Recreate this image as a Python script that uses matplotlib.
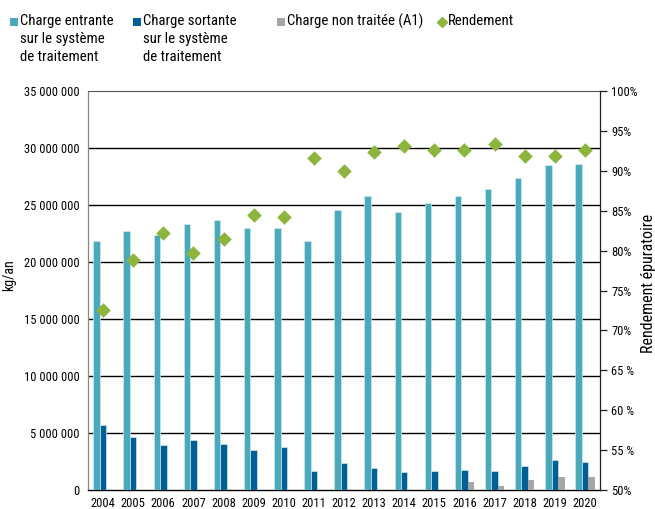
import matplotlib
matplotlib.use("Agg")
import matplotlib.pyplot as plt
from matplotlib import font_manager
from matplotlib.patches import Rectangle
from matplotlib.lines import Line2D
import numpy as np

available = {f.name for f in font_manager.fontManager.ttflist}
narrow = [n for n in ("Liberation Sans Narrow", "Roboto Condensed", "Open Sans Condensed",
                      "DejaVu Sans Condensed") if n in available]
family = narrow[0] if narrow else "Liberation Sans"
plt.rcParams["font.family"] = [family, "DejaVu Sans"]
scale = 1.15 if narrow else 1.0

years = ["2004", "2005", "2006", "2007", "2008", "2009", "2010", "2011", "2012",
         "2013", "2014", "2015", "2016", "2017", "2018", "2019", "2020"]
charge_entrante = [21.8, 22.7, 22.4, 23.3, 23.7, 23.0, 23.0, 21.8, 24.6,
                   25.8, 24.4, 25.2, 25.8, 26.4, 27.4, 28.5, 28.6]  # millions kg/an
charge_sortante = [5.7, 4.65, 3.95, 4.35, 4.03, 3.5, 3.75, 1.67, 2.4,
                   1.9, 1.58, 1.67, 1.78, 1.67, 2.1, 2.63, 2.46]
charge_non_traitee = [0, 0, 0, 0, 0, 0, 0, 0, 0,
                      0, 0, 0, 0.67, 0.35, 0.88, 1.14, 1.14]
rendement = [72.6, 78.8, 82.2, 79.7, 81.5, 84.5, 84.2, 91.6, 90.0,
             92.3, 93.1, 92.6, 92.6, 93.3, 91.9, 91.9, 92.6]

left_ticks = [0, 5, 10, 15, 20, 25, 30, 35]
left_labels = ["0", "5 000 000", "10 000 000", "15 000 000", "20 000 000",
               "25 000 000", "30 000 000", "35 000 000"]
right_ticks = [50, 55, 60, 65, 70, 75, 80, 85, 90, 95, 100]
right_labels = ["50%", "55 %", "60 %", "65 %", "70%", "75%", "80%", "85%",
                "90%", "95%", "100%"]

c_in = "#4aa9bb"
c_out = "#005f94"
c_na = "#a6a6a6"
c_rend = "#8db43c"

fs_tick = 7.8 * scale
fs_leg = 9.2 * scale
fs_lab = 8.8 * scale
fs_lab_r = 10.0 * scale

W, H = 655, 509
fig = plt.figure(figsize=(W / 100, H / 100), dpi=100)
ax = fig.add_axes([88 / W, 1 - 490 / H, 512 / W, 399 / H])

x = np.arange(len(years))
w = 0.215
ax.bar(x - w, charge_entrante, w, color=c_in, edgecolor="#cfe9ee", linewidth=0.5, zorder=3)
ax.bar(x, charge_sortante, w, color=c_out, edgecolor="#cfe9ee", linewidth=0.5, zorder=3)
ax.bar(x + w, charge_non_traitee, w, color=c_na, linewidth=0, zorder=3)

ax.set_xlim(-0.5, len(years) - 0.5)
ax.set_ylim(0, 35)
ax.set_yticks(left_ticks)
ax.set_yticklabels(left_labels, fontsize=fs_tick)
ax.tick_params(axis="y", length=0, pad=6)
ax.set_xticks(x)
ax.set_xticklabels(years, fontsize=fs_tick)
ax.tick_params(axis="x", length=0, pad=5)
for t in left_ticks[1:-1]:
    ax.axhline(t, color="black", linewidth=1.0, zorder=1)
ax.spines["top"].set_color("#555555")
ax.spines["top"].set_linewidth(0.8)
ax.spines["left"].set_color("#888888")
ax.spines["left"].set_linewidth(0.9)
ax.spines["bottom"].set_color("black")
ax.spines["bottom"].set_linewidth(1.0)
ax.spines["right"].set_visible(False)
ax.set_ylabel("kg/an", fontsize=fs_lab)
ax.yaxis.set_label_coords((16 - 88) / 512, (490 - 275) / 399)

ax2 = ax.twinx()
ax2.set_ylim(50, 100)
ax2.set_yticks(right_ticks)
ax2.set_yticklabels(right_labels, fontsize=fs_tick)
ax2.tick_params(axis="y", length=5, width=0.9, pad=3, direction="out", color="#222222")
ax2.spines["right"].set_color("#222222")
ax2.spines["right"].set_linewidth(0.9)
for s in ("top", "left", "bottom"):
    ax2.spines[s].set_visible(False)
ax2.scatter(x, rendement, marker="D", s=55, color=c_rend, linewidths=0, zorder=5)
ax2.set_ylabel("Rendement épuratoire", fontsize=fs_lab_r)
ax2.yaxis.set_label_coords((641 - 88) / 512, (490 - 283) / 399)

# legend
items = [
    (10, "s", c_in, "Charge entrante\nsur le système\nde traitement"),
    (133, "s", c_out, "Charge sortante\nsur le système\nde traitement"),
    (277, "s", c_na, "Charge non traitée (A1)"),
    (440, "D", c_rend, "Rendement"),
]
for px, mk, col, label in items:
    if mk == "s":
        fig.add_artist(Rectangle((px / W, 1 - 26 / H), 8 / W, 8 / H,
                                 transform=fig.transFigure, color=col, linewidth=0))
        tx = px + 10
    else:
        fig.add_artist(Line2D([(px + 2) / W], [1 - 22 / H], marker="D",
                              markersize=5, color=col, linewidth=0,
                              transform=fig.transFigure))
        tx = px + 8
    fig.text(tx / W, 1 - 14 / H, label, fontsize=fs_leg, va="top", ha="left",
             linespacing=1.35)

fig.savefig("out.png", dpi=100)
